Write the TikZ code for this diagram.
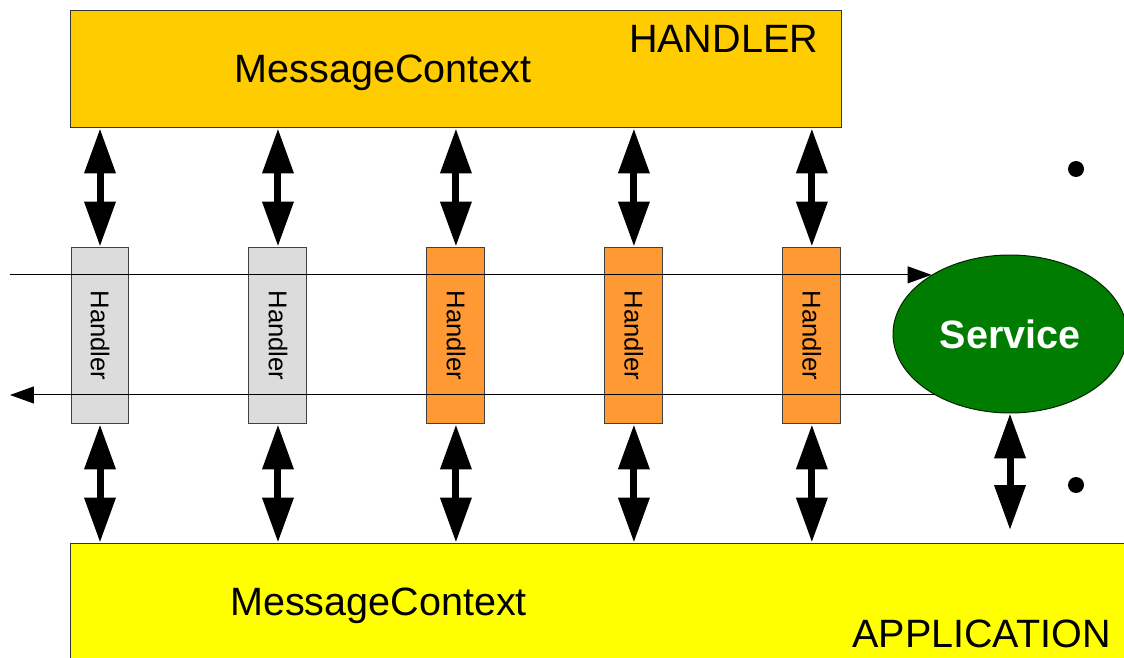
\documentclass[tikz,border=0pt]{standalone}
\usepackage{fontspec}
\setmainfont{Liberation Sans}
\usepackage{xcolor}
\usetikzlibrary{arrows.meta, positioning, shapes.geometric}

\definecolor{handlergold}{HTML}{FFCC00}
\definecolor{appyellow}{HTML}{FFFF00}
\definecolor{handlergray}{HTML}{DCDCDC}
\definecolor{handlerorange}{HTML}{FF9933}
\definecolor{servicegreen}{HTML}{007D00}

\begin{document}
\begin{tikzpicture}[
  x=0.02cm, y=-0.02cm,
  node distance=2.38cm,
  every node/.style={font=\fontsize{22.5}{27}\selectfont},
  ctxbox/.style={rectangle, draw=black!80, line width=0.02cm, inner sep=0},
  handler/.style={rectangle, draw=black!75, line width=0.02cm, minimum width=1.16cm, minimum height=3.54cm, inner sep=0, font=\fontsize{14.6}{16}\selectfont},
  boxtext/.style={anchor=base, inner sep=0},
  dblarrow/.style={{Triangle[length=0.9cm,width=0.6cm]}-{Triangle[length=0.9cm,width=0.6cm]}, line width=0.14cm},
  flow/.style={-{Triangle[length=0.48cm,width=0.34cm]}, line width=0.02cm},
  bullet/.style={circle, fill=black, minimum size=0.32cm, inner sep=0}
]
\clip (0,0) rectangle (1124,658);

% Context boxes
\node[ctxbox, fill=handlergold, minimum width=15.44cm, minimum height=2.36cm] (hbox) at (456,69) {};
\node[ctxbox, fill=appyellow, minimum width=21.4cm, minimum height=2.54cm] (abox) at (605,606.5) {};
\node[boxtext] (hctx) at (383,83) {MessageContext};
\node[boxtext] (htitle) at (723.5,53) {HANDLER};
\node[boxtext] (actx) at (378.5,615) {MessageContext};
\node[boxtext] (atitle) at (981.5,647) {APPLICATION};

% Handler chain
\node[handler, fill=handlergray] (h1) at (100,335.5) {\rotatebox{-90}{Handler}};
\node[handler, fill=handlergray, right=of h1] (h2) {\rotatebox{-90}{Handler}};
\node[handler, fill=handlerorange, right=of h2] (h3) {\rotatebox{-90}{Handler}};
\node[handler, fill=handlerorange, right=of h3] (h4) {\rotatebox{-90}{Handler}};
\node[handler, fill=handlerorange, right=of h4] (h5) {\rotatebox{-90}{Handler}};

% Service
\node[ellipse, draw=black!70!servicegreen, line width=0.02cm, fill=servicegreen, text=white, font=\bfseries\fontsize{22.5}{27}\selectfont, minimum width=4.68cm, minimum height=3.16cm, inner sep=0] (svc) at (1010,334) {Service};

% Message flow
\coordinate (lft) at (10,0);
\draw[flow] (lft |- svc.143) -- (svc.143);
\draw[flow] (svc.219) -- (lft |- svc.219);

% Context access
\draw[dblarrow] (h1.north) -- (h1.north |- hbox.south);
\draw[dblarrow] (h2.north) -- (h2.north |- hbox.south);
\draw[dblarrow] (h3.north) -- (h3.north |- hbox.south);
\draw[dblarrow] (h4.north) -- (h4.north |- hbox.south);
\draw[dblarrow] (h5.north) -- (h5.north |- hbox.south);
\draw[dblarrow] (h1.south) -- (h1.south |- abox.north);
\draw[dblarrow] (h2.south) -- (h2.south |- abox.north);
\draw[dblarrow] (h3.south) -- (h3.south |- abox.north);
\draw[dblarrow] (h4.south) -- (h4.south |- abox.north);
\draw[dblarrow] (h5.south) -- (h5.south |- abox.north);
\coordinate (svcend) at (1010,530);
\draw[dblarrow] (svc.south) -- (svcend);

% Bullets
\node[bullet] (bul1) at (1076,169) {};
\node[bullet] (bul2) at (1076,485) {};

\end{tikzpicture}
\end{document}
